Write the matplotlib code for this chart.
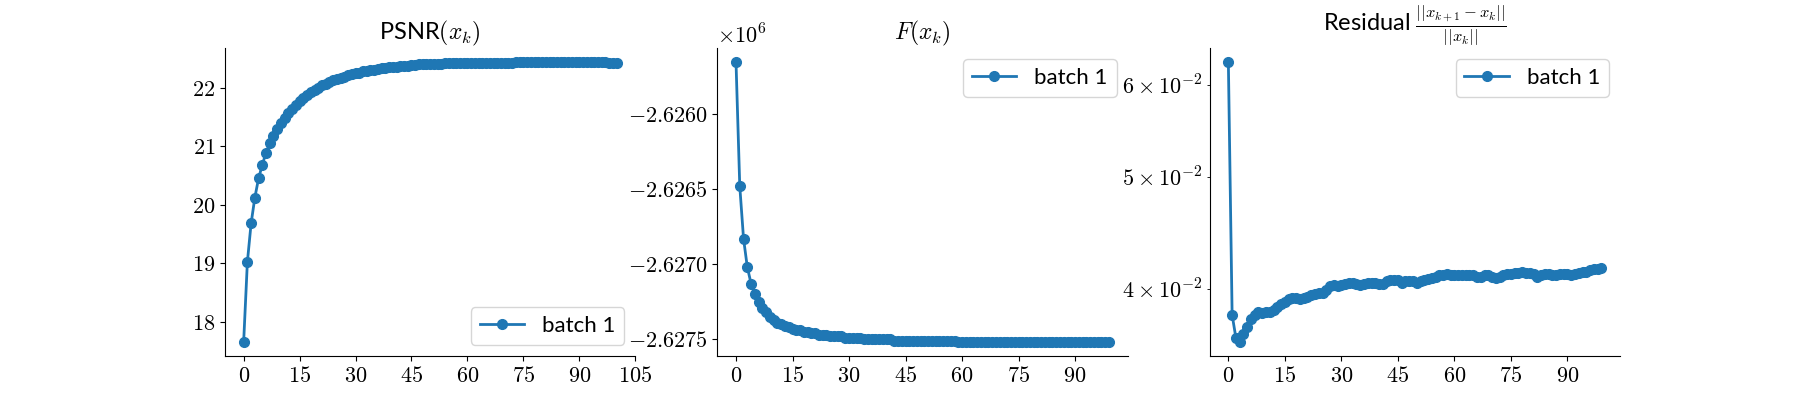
import matplotlib
matplotlib.use("Agg")
import matplotlib.pyplot as plt
from matplotlib.ticker import FuncFormatter, FixedLocator, NullLocator

plt.rcParams['mathtext.fontset'] = 'cm'
plt.rcParams['font.family'] = ['Lato', 'DejaVu Sans']

psnr = [17.65, 19.02, 19.68, 20.12, 20.45, 20.68, 20.89, 21.05, 21.18, 21.30,
        21.40, 21.49, 21.57, 21.64, 21.71, 21.77, 21.83, 21.88, 21.92, 21.96,
        22.00, 22.04, 22.07, 22.10, 22.13, 22.15, 22.17, 22.19, 22.21, 22.23,
        22.25, 22.26, 22.28, 22.29, 22.30, 22.31, 22.32, 22.33, 22.34, 22.35,
        22.36, 22.36, 22.37, 22.38, 22.38, 22.39, 22.39, 22.40, 22.40, 22.40,
        22.41, 22.41, 22.41, 22.41, 22.42, 22.42, 22.42, 22.42, 22.42, 22.42,
        22.42, 22.42, 22.43, 22.43, 22.43, 22.43, 22.43, 22.43, 22.43, 22.43,
        22.43, 22.43, 22.43, 22.44, 22.44, 22.44, 22.44, 22.44, 22.44, 22.44,
        22.44, 22.44, 22.44, 22.44, 22.44, 22.44, 22.44, 22.44, 22.44, 22.44,
        22.44, 22.44, 22.44, 22.44, 22.44, 22.44, 22.44, 22.44, 22.43, 22.43,
        22.43]

F_millions = [-2.62565, -2.62648, -2.62683, -2.62702, -2.62713, -2.62720, -2.62725, -2.62729, -2.62732, -2.62735,
              -2.62737, -2.62739, -2.62740, -2.62741, -2.62742, -2.62743, -2.62744, -2.62744, -2.62745, -2.62745,
              -2.62746, -2.62746, -2.62747, -2.62747, -2.62747, -2.62748, -2.62748, -2.62748, -2.62748, -2.62749,
              -2.62749, -2.62749, -2.62749, -2.62749, -2.62750, -2.62750, -2.62750, -2.62750, -2.62750, -2.62750,
              -2.62750, -2.62750, -2.62751, -2.62751, -2.62751, -2.62751, -2.62751, -2.62751, -2.62751, -2.62751,
              -2.62751, -2.62751, -2.62751, -2.62751, -2.62751, -2.62751, -2.62751, -2.62751, -2.62751, -2.62752,
              -2.62752, -2.62752, -2.62752, -2.62752, -2.62752, -2.62752, -2.62752, -2.62752, -2.62752, -2.62752,
              -2.62752, -2.62752, -2.62752, -2.62752, -2.62752, -2.62752, -2.62752, -2.62752, -2.62752, -2.62752,
              -2.62752, -2.62752, -2.62752, -2.62752, -2.62752, -2.62752, -2.62752, -2.62752, -2.62752, -2.62752,
              -2.62752, -2.62752, -2.62752, -2.62752, -2.62752, -2.62752, -2.62752, -2.62752, -2.62752, -2.62752]

residual = [0.0628, 0.0380, 0.0363, 0.0360, 0.0366, 0.0371, 0.0377, 0.0380, 0.0382, 0.0381,
            0.0382, 0.0382, 0.0384, 0.0386, 0.0388, 0.0390, 0.0392, 0.0393, 0.0393, 0.0392,
            0.0393, 0.0394, 0.0395, 0.0396, 0.0397, 0.0397, 0.0399, 0.0402, 0.0403, 0.0402,
            0.0403, 0.0404, 0.0405, 0.0405, 0.0404, 0.0403, 0.0404, 0.0405, 0.0405, 0.0405,
            0.0404, 0.0404, 0.0406, 0.0407, 0.0407, 0.0407, 0.0405, 0.0406, 0.0406, 0.0406,
            0.0405, 0.0406, 0.0407, 0.0408, 0.0409, 0.0410, 0.0411, 0.0411, 0.0412, 0.0411,
            0.0411, 0.0411, 0.0411, 0.0411, 0.0411, 0.0411, 0.0410, 0.0410, 0.0411, 0.0411,
            0.0410, 0.0409, 0.0410, 0.0411, 0.0412, 0.0412, 0.0413, 0.0413, 0.0414, 0.0413,
            0.0413, 0.0412, 0.0410, 0.0411, 0.0412, 0.0412, 0.0411, 0.0411, 0.0412, 0.0412,
            0.0412, 0.0411, 0.0412, 0.0413, 0.0414, 0.0414, 0.0415, 0.0416, 0.0416, 0.0417]

label = "batch 1"
fs = 16
tfs = 17

fig, axes = plt.subplots(1, 3, figsize=(18, 4), dpi=100)
mfmt = FuncFormatter(lambda v, p: r'$%g$' % v)

ax = axes[0]
ax.plot(range(len(psnr)), psnr, 'o-', lw=2, ms=7, label=label)
ax.set_title(r'PSNR$(x_k)$', fontsize=tfs)
ax.set_xticks(range(0, 106, 15))
ax.legend(loc='lower right', fontsize=fs)

ax = axes[1]
ax.plot(range(len(F_millions)), F_millions, 'o-', lw=2, ms=7, label=label)
ax.set_title(r'$F(x_k)$', fontsize=tfs)
ax.set_xticks(range(0, 91, 15))
ax.yaxis.set_major_formatter(FuncFormatter(lambda v, p: r'$%.4f$' % v if v >= 0 else r'$-%.4f$' % -v))
ax.text(0, 1.0, r'$\times10^{6}$', transform=ax.transAxes, fontsize=fs, ha='left', va='bottom')
ax.legend(loc='upper right', fontsize=fs)

ax = axes[2]
ax.plot(range(len(residual)), residual, 'o-', lw=2, ms=7, label=label)
ax.set_yscale('log')
ax.set_title(r'Residual $\frac{||x_{k+1}-x_k||}{||x_k||}$', fontsize=tfs)
ax.set_xticks(range(0, 91, 15))
ax.yaxis.set_major_locator(NullLocator())
ax.yaxis.set_minor_locator(FixedLocator([0.04, 0.05, 0.06]))
ax.yaxis.set_minor_formatter(FuncFormatter(lambda v, p: r'$%d\times10^{-2}$' % round(v * 100)))
ax.legend(loc='upper right', fontsize=fs)

for i, ax in enumerate(axes):
    ax.spines['top'].set_visible(False)
    ax.spines['right'].set_visible(False)
    ax.xaxis.set_major_formatter(mfmt)
    if i == 0:
        ax.yaxis.set_major_formatter(mfmt)
    ax.tick_params(labelsize=fs, which='both')

fig.savefig('out.png', dpi=100)
